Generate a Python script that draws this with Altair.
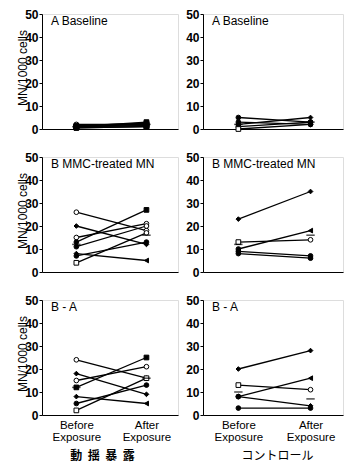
import altair as alt
import pandas as pd

FONT = "Liberation Sans"

panel_titles = ["A Baseline", "B  MMC-treated MN", "B - A"]
captions = ["動\u00a0\u00a0揺\u00a0\u00a0暴\u00a0\u00a0露", "コントロール"]

# Left column (動揺暴露)
AL_before = [2, 1, 1, 0.5, 1, 1.5, 0.5, 1]
AL_after = [2, 1.5, 3, 1, 2, 2.5, 1, 1.5]
AL_mk_b = ["oc", "fs", "fs", "fs", "fs", "fs", "fs", "fs"]
AL_mk_a = ["fs", "fs", "fs", "fs", "fs", "fs", "fs", "fs"]
AL_mean = [1, 2]

BL_before = [26, 20, 15, 13, 11, 8, 7, 4]
BL_after = [18, 12, 21, 27, 20, 5, 13, 17]
BL_mk_b = ["oc", "fd", "oc", "fc", "fc", "fd", "fc", "os"]
BL_mk_a = ["oc", "fd", "oc", "fs", "oc", "tr", "fc", "oc"]
BL_mean = [12, 16]

CL_before = [24, 18, 15, 12, 8, 5, 2]
CL_after = [16, 9, 21, 25, 5, 13, 16]
CL_mk_b = ["oc", "fd", "oc", "fs", "fd", "fc", "os"]
CL_mk_a = ["fd", "fd", "oc", "fs", "tr", "fc", "os"]
CL_mean = [12, 16]

# Right column (コントロール)
AR_before = [5, 2, 1, 0, 3]
AR_after = [3, 5, 3, 2, 2]
AR_mk_b = ["fc", "fc", "fc", "os", "fc"]
AR_mk_a = ["fc", "fd", "fc", "fc", "fc"]
AR_mean = [2, 3]

BR_before = [23, 13, 10, 9, 8]
BR_after = [35, 14, 18, 7, 6]
BR_mk_b = ["fd", "os", "fc", "fc", "fc"]
BR_mk_a = ["fd", "oc", "tr", "fc", "fc"]
BR_mean = [12, 16]

CR_before = [20, 13, 8, 8, 3]
CR_after = [28, 11, 16, 4, 3]
CR_mk_b = ["fd", "os", "fc", "fc", "fc"]
CR_mk_a = ["fd", "oc", "tr", "fd", "fc"]
CR_mean = [10, 7]

mk_domain = ["oc", "fc", "fd", "fs", "os", "tr"]
mk_shapes = ["circle", "circle", "diamond", "square", "square", "triangle-left"]
mk_fills = ["white", "black", "black", "black", "white", "black"]

H = 115


def build_df(before, after, mk_b, mk_a):
    rows = []
    for i, (b, a, mb, ma) in enumerate(zip(before, after, mk_b, mk_a)):
        rows.append({"subject": i, "time": 0, "value": b, "mk": mb})
        rows.append({"subject": i, "time": 1, "value": a, "mk": ma})
    return pd.DataFrame(rows)


def panel(before, after, mk_b, mk_a, mean, title, left, bottom, caption, width, cap_x, cap_w="normal"):
    df = build_df(before, after, mk_b, mk_a)
    mdf = pd.DataFrame({"time": [0, 1], "value": mean})
    if bottom:
        xaxis = alt.Axis(values=[0, 1], ticks=False, grid=False, domainColor="black",
                         labelExpr="datum.value == 0 ? ['Before', 'Exposure'] : ['After', 'Exposure']",
                         labelFont=FONT, labelFontSize=11.5, labelColor="black", labelPadding=4,
                         labelLineHeight=12,
                         title=caption, titleFont="Noto Sans CJK JP", titleFontSize=12,
                         titleFontWeight=cap_w, titlePadding=8, titleColor="black",
                         titleX=cap_x)
    else:
        xaxis = alt.Axis(labels=False, ticks=False, grid=False, title=None, domainColor="black")
    x = alt.X("time:Q", scale=alt.Scale(domain=[-0.49, 1.45], nice=False, zero=False), axis=xaxis)
    yaxis_kw = dict(values=[0, 10, 20, 30, 40, 50], grid=False, tickSize=3,
                    domainColor="black", tickColor="black",
                    labelFont=FONT, labelFontSize=12, labelColor="black",
                    labelFontWeight="bold", labelPadding=1)
    if left:
        yaxis_kw.update(title="MN/1000 cells", titleFont=FONT, titleFontSize=12,
                        titleFontWeight="normal", titleColor="black",
                        titleX=-20, titleY=H / 2 - 4, titleAngle=270,
                        titleAlign="center", titleBaseline="middle")
    else:
        yaxis_kw.update(title=None)
    y = alt.Y("value:Q", scale=alt.Scale(domain=[0, 50], nice=False), axis=alt.Axis(**yaxis_kw))
    lines = alt.Chart(df).mark_line(color="black", strokeWidth=1.3).encode(
        x=x, y=y, detail="subject:N")
    points = alt.Chart(df).mark_point(filled=False, stroke="black", strokeWidth=1,
                                      size=22, opacity=1).encode(
        x=x, y=y,
        shape=alt.Shape("mk:N", scale=alt.Scale(domain=mk_domain, range=mk_shapes), legend=None),
        fill=alt.Fill("mk:N", scale=alt.Scale(domain=mk_domain, range=mk_fills), legend=None))
    means = alt.Chart(mdf).mark_point(shape="M-1,0L1,0", stroke="black", strokeWidth=1.5,
                                      size=70, filled=False).encode(x=x, y=y)
    label = alt.Chart(pd.DataFrame({"t": [title]})).mark_text(
        align="left", baseline="middle", font=FONT, fontSize=12, color="black").encode(
        text="t:N", x=alt.value(9), y=alt.value(7))
    return alt.layer(lines, points, means, label).properties(width=width, height=H)


left_col = alt.vconcat(
    panel(AL_before, AL_after, AL_mk_b, AL_mk_a, AL_mean, panel_titles[0], True, False, None, 136, 0),
    panel(BL_before, BL_after, BL_mk_b, BL_mk_a, BL_mean, panel_titles[1], True, False, None, 136, 0),
    panel(CL_before, CL_after, CL_mk_b, CL_mk_a, CL_mean, panel_titles[2], True, True, captions[0], 136, 60, "bold"),
    spacing=14)
right_col = alt.vconcat(
    panel(AR_before, AR_after, AR_mk_b, AR_mk_a, AR_mean, panel_titles[0], False, False, None, 140, 0),
    panel(BR_before, BR_after, BR_mk_b, BR_mk_a, BR_mean, panel_titles[1], False, False, None, 140, 0),
    panel(CR_before, CR_after, CR_mk_b, CR_mk_a, CR_mean, panel_titles[2], False, True, captions[1], 140, 74),
    spacing=14)

chart = alt.hconcat(left_col, right_col, spacing=6).properties(
    padding={"left": 15, "top": 7, "right": 2, "bottom": 2}
).configure_view(stroke=None).configure(background="white")

chart.save("out.html", embed_options={"renderer": "svg", "actions": False})
